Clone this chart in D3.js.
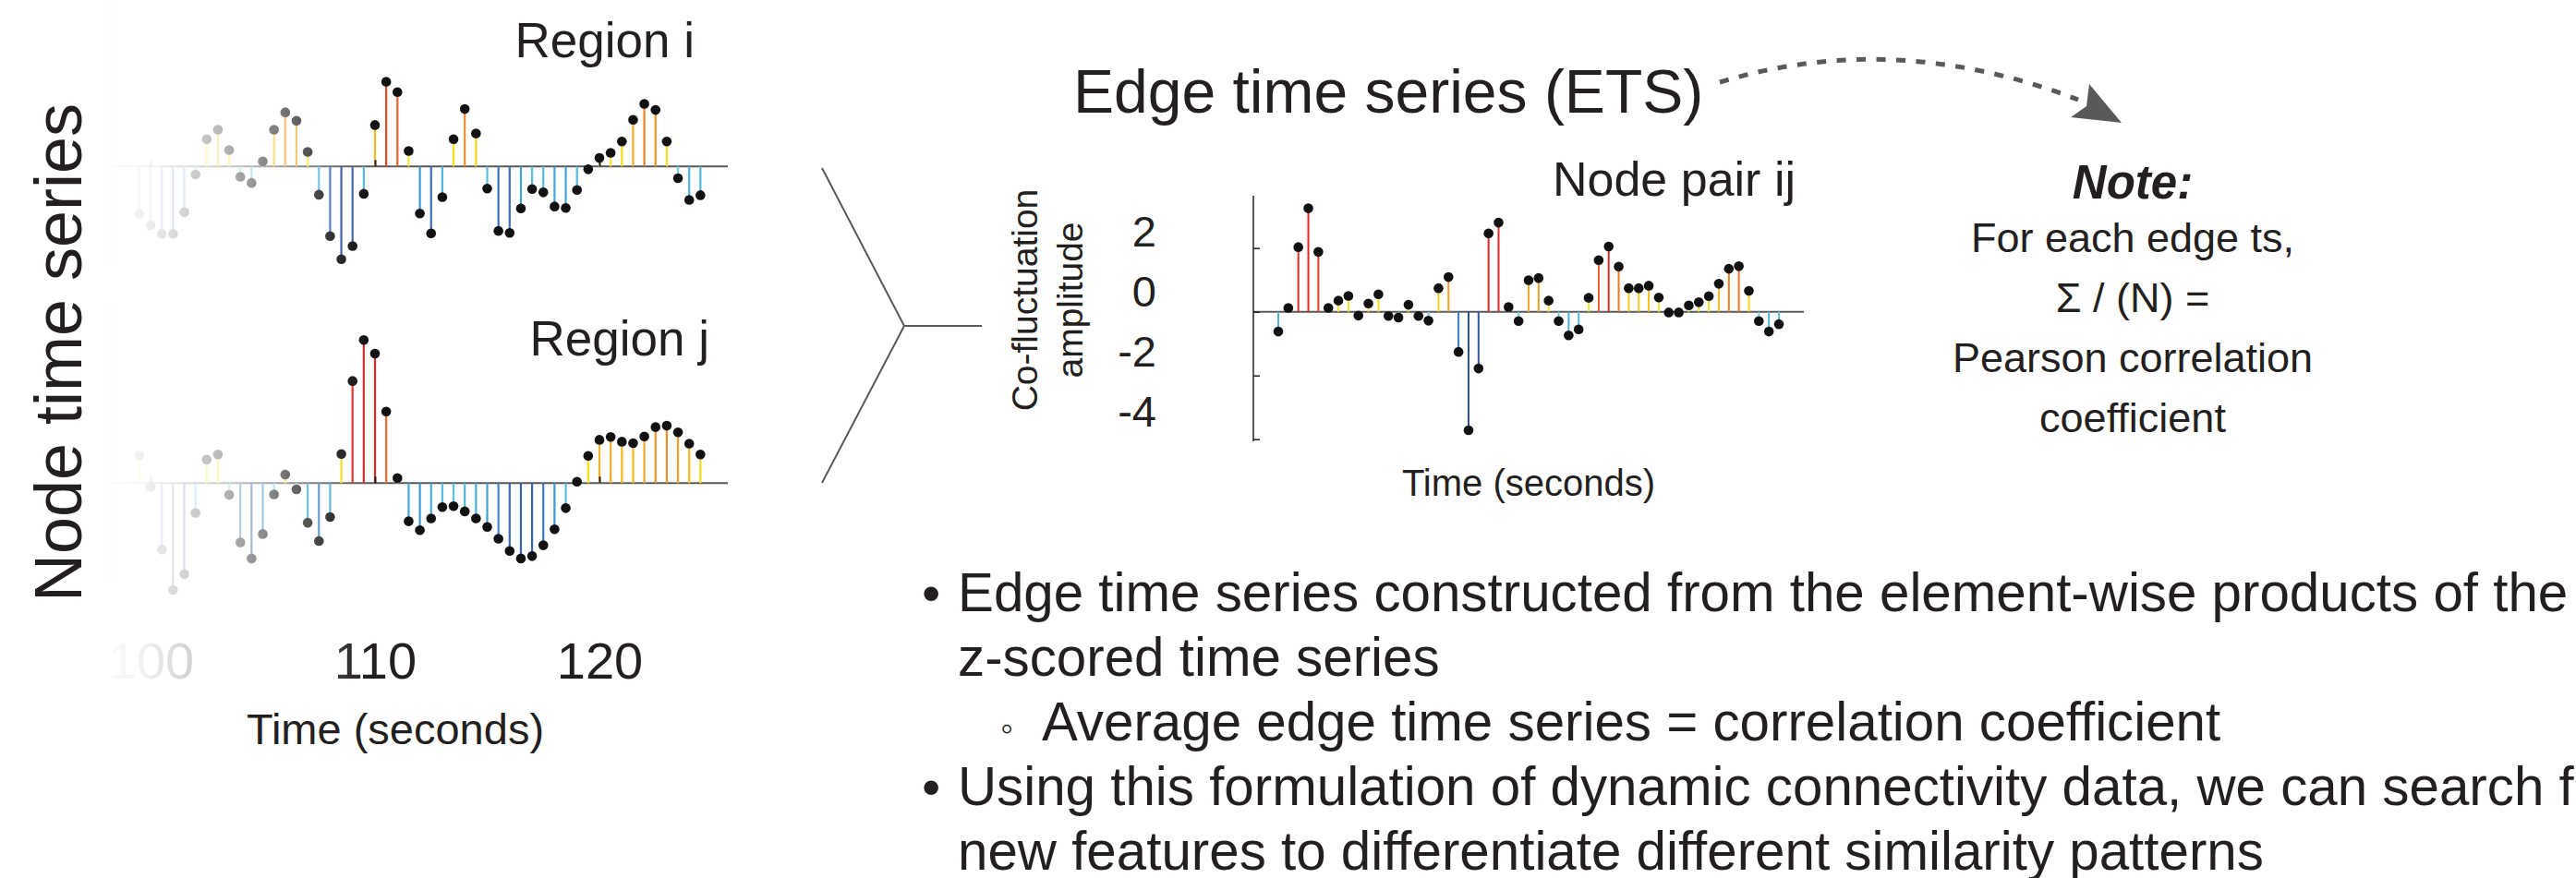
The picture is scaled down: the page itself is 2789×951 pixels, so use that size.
<!DOCTYPE html>
<html><head><meta charset="utf-8">
<script src="https://cdn.jsdelivr.net/npm/d3@7"></script>
<style>
body{margin:0;background:#fff}
svg{display:block}
text{font-family:"Liberation Sans",Arial,Helvetica,sans-serif;fill:#231f20}
</style>
</head><body>
<svg id="c" width="2789" height="951"></svg>
<script>
// ---------------- data ----------------
const times = [99.5,100,100.5,101,101.5,102,102.5,103,103.5,104,104.5,105,105.5,106,106.5,107,107.5,108,108.5,109,109.5,110,110.5,111,111.5,112,112.5,113,113.5,114,114.5,115,115.5,116,116.5,117,117.5,118,118.5,119,119.5,120,120.5,121,121.5,122,122.5,123,123.5,124,124.5];
const regionI = [-1.01,-1.25,-1.43,-1.43,-0.97,-0.17,0.58,0.78,0.35,-0.22,-0.35,0.11,0.78,1.15,0.97,0.31,-0.60,-1.48,-1.97,-1.69,-0.58,0.88,1.80,1.58,0.33,-1.00,-1.42,-0.65,0.58,1.22,0.70,-0.47,-1.37,-1.41,-0.89,-0.48,-0.55,-0.85,-0.88,-0.50,-0.06,0.18,0.29,0.53,0.99,1.33,1.20,0.53,-0.25,-0.71,-0.61];
const regionJ = [0.59,-0.08,-1.41,-2.27,-1.93,-0.63,0.50,0.61,-0.25,-1.26,-1.60,-1.08,-0.24,0.18,-0.13,-0.84,-1.23,-0.72,0.62,2.17,3.04,2.75,1.52,0.11,-0.81,-1.00,-0.75,-0.51,-0.49,-0.60,-0.75,-0.93,-1.18,-1.44,-1.60,-1.55,-1.32,-0.98,-0.53,0.03,0.58,0.92,0.98,0.88,0.85,0.99,1.19,1.22,1.08,0.84,0.61];
const edgeTS = [-0.62,0.12,2.03,3.25,1.88,0.12,0.35,0.50,-0.12,0.26,0.55,-0.13,-0.18,0.22,-0.13,-0.28,0.74,1.09,-1.26,-3.72,-1.78,2.46,2.80,0.15,-0.29,0.99,1.06,0.35,-0.29,-0.74,-0.55,0.44,1.62,2.05,1.42,0.74,0.74,0.82,0.45,-0.02,-0.02,0.20,0.30,0.49,0.88,1.35,1.43,0.66,-0.29,-0.62,-0.39];
const timeTicks = [100,110,120];
const nodeYTicks = [-1.45,0.55,2.55];
const etsTicks = [2,0,-2,-4];
const bullets = [
  {mark:"\u2022", text:"Edge time series constructed from the element-wise products of the", level:0},
  {mark:"", text:"z-scored time series", level:0},
  {mark:"\u25E6", text:"Average edge time series = correlation coefficient", level:1},
  {mark:"\u2022", text:"Using this formulation of dynamic connectivity data, we can search for", level:0},
  {mark:"", text:"new features to differentiate different similarity patterns", level:0}
];
const noteLines = ["For each edge ts,", "\u03A3 / (N) =", "Pearson correlation", "coefficient"];

// ---------------- helpers ----------------
const svg = d3.select("#c");
svg.append("rect").attr("width",2789).attr("height",951).attr("fill","#fff");

const negColor = d3.scaleLinear().domain([-2.0,-1.4,-0.9,-0.4,0]).range(["#2c4c9c","#3b6ec0","#3ea2dc","#5cc6e2","#a6e2ef"]).clamp(true);
const posColor = d3.scaleLinear().domain([0,0.6,0.95,1.3,1.7,2.1]).range(["#f8ee50","#f6de12","#f5ae22","#f38526","#ec4e28","#e42622"]).clamp(true);
const stemColor = v => v < 0 ? negColor(v) : posColor(v);
const R = 5.3;

// ---------------- node time series ----------------
const xN = d3.scaleLinear().domain([100,120]).range([163,649]);
const unit = 51;
const panels = [
  {vals:regionI, base:180.3, top:0, bottom:283, label:"Region i", lx:752, ly:62},
  {vals:regionJ, base:523.3, top:330, bottom:625, label:"Region j", lx:768, ly:385}
];
const gN = svg.append("g");
panels.forEach(p => {
  const y = d3.scaleLinear().domain([0,1]).range([p.base, p.base - unit]);
  const ya = d3.axisLeft(y).tickValues(nodeYTicks.filter(v => y(v) > p.top && y(v) < p.bottom)).tickSize(-8).tickFormat("");
  const ag = gN.append("g").attr("transform","translate(120,0)").call(ya);
  ag.select(".domain").remove();
  ag.selectAll(".tick line").attr("stroke","#ddd");
  gN.append("line").attr("x1",120).attr("x2",120).attr("y1",p.top).attr("y2",p.bottom).attr("stroke","#ddd").attr("stroke-width",1.5);
  gN.append("line").attr("x1",120).attr("x2",788).attr("y1",p.base).attr("y2",p.base).attr("stroke","#58595b").attr("stroke-width",2);
  gN.selectAll(null).data(p.vals).join("line")
    .attr("x1",(d,i)=>xN(times[i])).attr("x2",(d,i)=>xN(times[i]))
    .attr("y1",y(0)).attr("y2",d=>y(d))
    .attr("stroke",d=>stemColor(d)).attr("stroke-width",2.2);
  const xa = d3.axisTop(xN).tickValues(timeTicks).tickSize(7).tickFormat("");
  const xg = gN.append("g").attr("transform",`translate(0,${p.base})`).call(xa);
  xg.select(".domain").remove();
  xg.selectAll(".tick line").attr("stroke","#231f20").attr("stroke-width",2);
  gN.selectAll(null).data(p.vals).join("circle")
    .attr("cx",(d,i)=>xN(times[i])).attr("cy",d=>y(d)).attr("r",R).attr("fill","#111");
  svg.append("text").attr("x",p.lx).attr("y",p.ly).attr("text-anchor","end").attr("font-size",53).text(p.label);
});
const xb = d3.axisBottom(xN).tickValues(timeTicks).tickSize(0).tickPadding(3).tickFormat(d=>d);
const xbg = gN.append("g").attr("transform","translate(0,692)").call(xb);
xbg.select(".domain").remove();
xbg.selectAll("text").attr("font-size",56).attr("font-family",'"Liberation Sans",Arial,sans-serif').attr("fill","#231f20");

const defs = svg.append("defs");
const grad = defs.append("linearGradient").attr("id","fade").attr("gradientUnits","userSpaceOnUse")
  .attr("x1",100).attr("x2",400).attr("y1",0).attr("y2",0);
[[0,1],[0.2,0.93],[0.45,0.72],[0.67,0.45],[0.88,0.12],[1,0]].forEach(s=>{
  grad.append("stop").attr("offset",s[0]).attr("stop-color","#fff").attr("stop-opacity",s[1]);
});
svg.append("rect").attr("x",100).attr("y",0).attr("width",300).attr("height",760).attr("fill","url(#fade)");

svg.append("text").attr("transform","translate(88,382) rotate(-90)").attr("text-anchor","middle").attr("font-size",72).text("Node time series");
svg.append("text").attr("x",428).attr("y",806).attr("text-anchor","middle").attr("font-size",47).text("Time (seconds)");

// ---------------- bracket ----------------
svg.append("path").attr("d","M890,182 L979,353 L890,523 M979,353 L1063,353")
  .attr("fill","none").attr("stroke","#58595b").attr("stroke-width",2);

// ---------------- edge time series ----------------
svg.append("text").attr("x",1162).attr("y",122).attr("font-size",66).text("Edge time series (ETS)");
const xE = d3.scaleLinear().domain([99.5,124.5]).range([1384,1926]);
const yE = d3.scaleLinear().domain([0,2]).range([337.7,268.7]);
const yLab = d3.scaleLinear().domain([0,2]).range([315.5,250.5]);
const gE = svg.append("g");
gE.append("line").attr("x1",1357).attr("x2",1953).attr("y1",yE(0)).attr("y2",yE(0)).attr("stroke","#58595b").attr("stroke-width",2);
const ea = d3.axisLeft(yE).tickValues(etsTicks).tickSizeInner(-7).tickSizeOuter(0).tickPadding(105).tickFormat(d=>String(d));
const eg = gE.append("g").attr("transform","translate(1357,0)").call(ea);
eg.select(".domain").remove();
eg.selectAll(".tick line").attr("stroke","#231f20").attr("stroke-width",1.5);
eg.selectAll(".tick text").attr("font-size",47).attr("fill","#231f20")
  .attr("font-family",'"Liberation Sans",Arial,sans-serif')
  .attr("dy",d=>(yLab(d)-yE(d)+16)+"px");
gE.append("line").attr("x1",1357).attr("x2",1357).attr("y1",yE(3.64)).attr("y2",yE(-4.07)).attr("stroke","#231f20").attr("stroke-width",1.5);
gE.selectAll(null).data(edgeTS).join("line")
  .attr("x1",(d,i)=>xE(times[i])).attr("x2",(d,i)=>xE(times[i]))
  .attr("y1",yE(0)).attr("y2",d=>yE(d))
  .attr("stroke",d=>stemColor(d)).attr("stroke-width",2);
gE.selectAll(null).data(edgeTS).join("circle")
  .attr("cx",(d,i)=>xE(times[i])).attr("cy",d=>yE(d)).attr("r",R).attr("fill","#111");
svg.append("text").attr("x",1944).attr("y",212).attr("text-anchor","end").attr("font-size",52).text("Node pair ij");
const yl = svg.append("text").attr("transform","translate(0,325) rotate(-90)").attr("text-anchor","middle").attr("font-size",39);
yl.append("tspan").attr("x",0).attr("y",1123).text("Co-fluctuation");
yl.append("tspan").attr("x",0).attr("y",1172).text("amplitude");
svg.append("text").attr("x",1655).attr("y",537).attr("text-anchor","middle").attr("font-size",40).text("Time (seconds)");

// ---------------- arrow ----------------
svg.append("path").attr("d","M1862,89 Q2051,31.5 2250,108")
  .attr("fill","none").attr("stroke","#58595b").attr("stroke-width",5).attr("stroke-dasharray","10,11.5");
svg.append("path").attr("d","M2262,91 L2297,133 L2242,127 L2259,115 Z").attr("fill","#58595b");

// ---------------- note ----------------
svg.append("text").attr("x",2309).attr("y",215).attr("text-anchor","middle").attr("font-size",51)
  .attr("font-weight","bold").attr("font-style","italic").text("Note:");
svg.selectAll(null).data(noteLines).join("text")
  .attr("x",2309).attr("y",(d,i)=>273+i*65).attr("text-anchor","middle").attr("font-size",45).text(d=>d);

// ---------------- bullets ----------------
bullets.forEach((b,i)=>{
  const by = 662 + i*70;
  const tx = b.level ? 1128 : 1037;
  if (b.mark) {
    svg.append("text").attr("x", b.level ? 1083 : 998).attr("y",by).attr("font-size", b.level ? 40 : 58).text(b.mark);
  }
  svg.append("text").attr("x",tx).attr("y",by).attr("font-size",58.3).text(b.text);
});
</script>
</body></html>
